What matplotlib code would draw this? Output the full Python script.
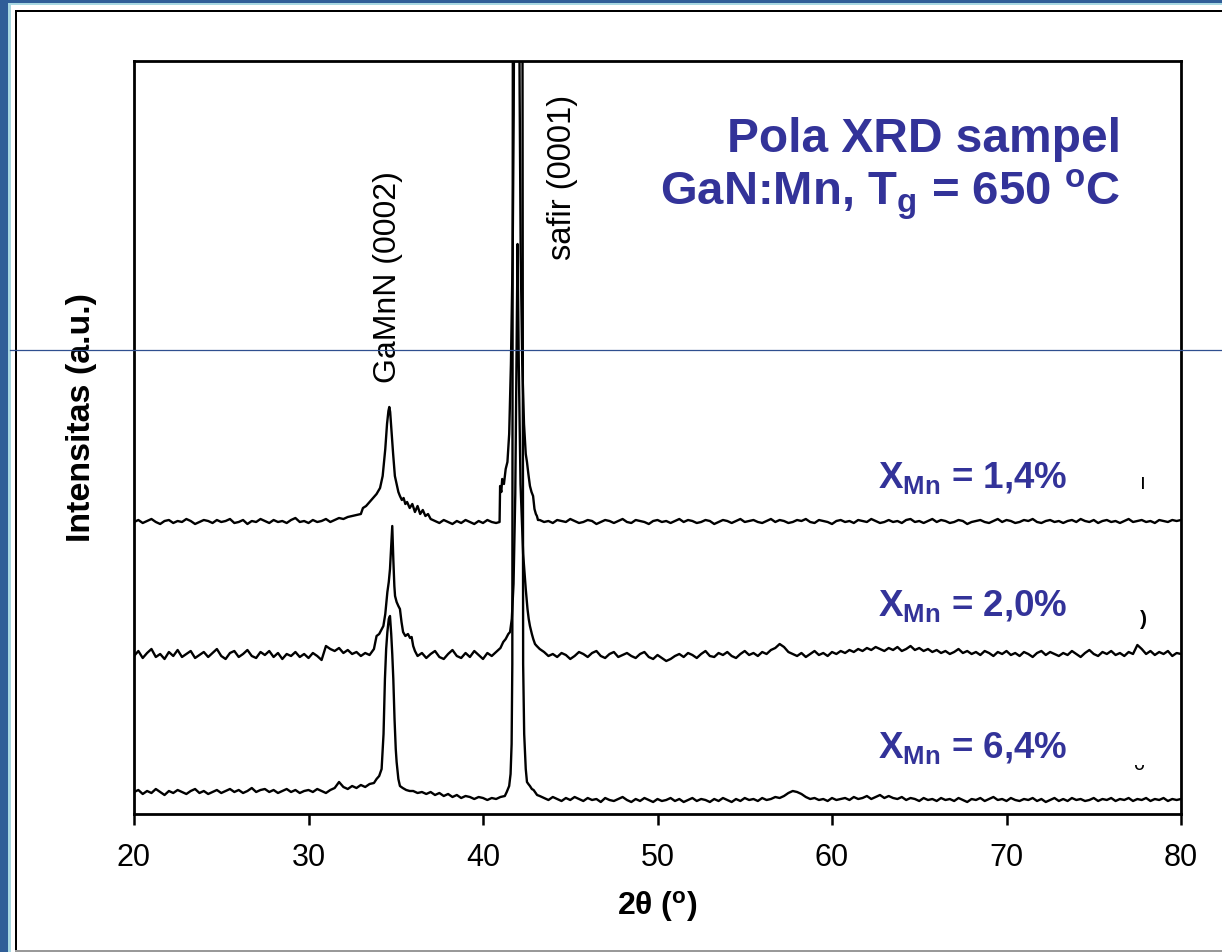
import numpy as np
import matplotlib
matplotlib.use("Agg")
import matplotlib.pyplot as plt
from matplotlib.patches import Rectangle
from matplotlib.lines import Line2D

plt.rcParams['font.family'] = ['Liberation Sans', 'DejaVu Sans']
plt.rcParams['mathtext.fontset'] = 'custom'
plt.rcParams['mathtext.rm'] = 'Liberation Sans'
plt.rcParams['mathtext.it'] = 'Liberation Sans:italic'
plt.rcParams['mathtext.bf'] = 'Liberation Sans:bold'

BLUE = '#333399'

# ---- data (2theta in degrees, intensity in arbitrary units) ----
# each trace = baseline pieces on a 0.25 deg scan grid + hand-read peak points

# X_Mn = 1,4 %
base14_a = [292, 294, 291, 293, 295, 292, 290, 293, 294, 291,
            293, 292, 295, 293, 290, 292, 294, 293, 291, 294,
            292, 293, 295, 291, 292, 294, 290, 293, 292, 295,
            293, 291, 294, 292, 293, 291, 294, 296, 292, 293,
            291, 294, 292, 293, 295, 292, 294, 296, 295, 297,
            298, 299]                                   # 20.0 .. 32.75
peak14_x = [33.0, 33.12, 33.3, 33.5, 33.7, 33.9, 34.1, 34.25, 34.4, 34.5, 34.58,
            34.63, 34.68, 34.75, 34.85, 34.95, 35.05, 35.15, 35.24, 35.35, 35.45,
            35.55, 35.65, 35.8, 35.95, 36.1, 36.25, 36.4, 36.55, 36.7, 36.85, 37.0]
peak14_y = [300, 306, 308, 312, 316, 320, 326, 338, 365, 390, 403,
            407, 402, 385, 360, 338, 330, 322, 318, 314, 316,
            310, 312, 306, 310, 302, 308, 300, 304, 298, 300, 295]
base14_b = [293, 291, 294, 292, 290, 293, 291, 294, 292, 290,
            293, 291, 294, 292, 291]                    # 37.25 .. 40.75
saph14_x = [40.95, 40.98, 41.05, 41.1, 41.2, 41.3, 41.4, 41.5, 41.6, 41.7, 41.76,
            41.82, 41.93, 42.03, 42.1, 42.16, 42.25, 42.35, 42.45, 42.52, 42.6,
            42.69, 42.78, 42.87, 42.95, 43.03, 43.09, 43.15]
saph14_y = [292, 328, 322, 335, 330, 345, 352, 380, 450, 560, 700,
            1000, 1600, 1000, 720, 560, 450, 390, 360, 352, 340,
            328, 322, 318, 305, 300, 298, 294]
base14_c = [294, 292, 293, 291, 294, 293, 292, 295, 293, 291,
            292, 294, 293, 290, 292, 294, 293, 291, 293, 295,
            292, 291, 294, 293, 292, 290, 293, 294, 292, 293,
            291, 293, 295, 292, 294, 293, 291, 292, 294, 293,
            290, 292, 294, 293, 291, 293, 295, 292, 293, 294,
            292, 291, 293, 295, 292, 294, 293, 291, 292, 294,
            293, 295, 292, 291, 294, 293, 292, 290, 293, 294,
            292, 293, 291, 294, 293, 292, 295, 293, 291, 292,
            294, 292, 293, 291, 294, 295, 292, 293, 291, 293,
            295, 292, 294, 293, 291, 292, 294, 293, 290, 292,
            293, 294, 292, 291, 293, 295, 292, 294, 293, 291,
            292, 294, 293, 295, 292, 291, 293, 294, 292, 293,
            291, 293, 294, 292, 295, 293, 292, 294, 291, 293,
            294, 292, 293, 291, 293, 295, 292, 293, 294, 292,
            293, 291, 294, 293, 292, 294, 293, 294]     # 43.25 .. 80.0

# X_Mn = 2,0 %
base20_a = [158, 163, 156, 161, 165, 157, 160, 155, 162, 158,
            164, 157, 160, 163, 156, 159, 162, 157, 161, 165,
            158, 155, 161, 163, 157, 160, 164, 158, 156, 162,
            159, 163, 157, 161, 155, 160, 158, 162, 157, 160,
            156, 161, 158, 154, 168, 165, 163, 166, 161, 164,
            160, 162, 158, 161, 159]                    # 20.0 .. 33.5
peak20_x = [33.75, 33.9, 34.05, 34.2, 34.29, 34.4, 34.52, 34.6, 34.67, 34.74, 34.8,
            34.86, 34.92, 34.96, 35.05, 35.15, 35.24, 35.33, 35.42, 35.55, 35.7,
            35.82, 35.91, 36.0, 36.1]
peak20_y = [165, 178, 180, 185, 188, 200, 222, 232, 245, 268, 288,
            255, 228, 218, 212, 208, 205, 192, 182, 178, 180,
            176, 177, 168, 163]
base20_b = [158, 161, 156, 160, 163, 157, 155, 160, 164, 158,
            156, 161, 157, 163, 159, 155, 161, 158, 162, 166]   # 36.25 .. 41.0
saph20_x = [41.16, 41.3, 41.45, 41.55, 41.65, 41.75, 41.85, 41.92, 41.98, 42.05,
            42.15, 42.3, 42.45, 42.55, 42.62, 42.69, 42.8, 42.88, 42.98, 43.08]
saph20_y = [172, 175, 180, 182, 195, 230, 320, 450, 570, 450,
            330, 260, 225, 205, 195, 188, 180, 175, 170, 168]
base20_c = [165, 162, 158, 160, 157, 161, 159, 155, 158, 162,
            160, 157, 161, 163, 158, 156, 160, 162, 157, 159,
            161, 158, 156, 160, 162, 157, 155, 159, 156, 153,
            155, 158, 160, 157, 161, 159, 156, 160, 163, 158,
            157, 161, 159, 162, 158, 156, 160, 163, 159, 161,
            158, 162, 160, 164, 166, 170, 167, 162, 160, 158,
            161, 157, 160, 163, 159, 161, 158, 162, 160, 163,
            161, 164, 162, 165, 163, 166, 164, 167, 165, 163,
            166, 164, 167, 163, 165, 168, 164, 166, 163, 165,
            162, 164, 161, 163, 160, 162, 165, 161, 163, 160,
            162, 159, 163, 161, 158, 162, 160, 163, 159, 161,
            158, 162, 160, 157, 161, 163, 159, 162, 160, 158,
            161, 159, 163, 160, 157, 161, 164, 160, 158, 162,
            160, 163, 159, 161, 158, 162, 160, 169, 165, 160,
            163, 159, 162, 160, 163, 158, 161, 160]     # 43.25 .. 80.0

# X_Mn = 6,4 %
base64_a = [22, 24, 20, 23, 21, 25, 22, 19, 23, 21,
            24, 22, 20, 23, 25, 21, 23, 20, 22, 24,
            21, 23, 25, 22, 24, 21, 23, 26, 22, 24,
            25, 22, 24, 21, 23, 25, 22, 24, 21, 23,
            24, 22, 25, 23, 21, 24, 26, 32, 27, 25,
            28, 26, 29, 27, 30, 31]                     # 20.0 .. 33.75
peak64_x = [33.9, 34.05, 34.19, 34.3, 34.38, 34.45, 34.52, 34.6, 34.67, 34.74,
            34.8, 34.86, 34.93, 35.0, 35.05, 35.15, 35.24, 35.4, 35.6, 35.8]
peak64_y = [35, 38, 45, 80, 135, 165, 182, 195, 198, 180,
            160, 135, 95, 65, 52, 35, 28, 26, 24, 23]
base64_b = [23, 21, 22, 20, 22, 19, 21, 18, 20, 17,
            19, 16, 18, 17, 15, 17, 16, 14, 16, 15, 17, 18]     # 36.0 .. 41.25
saph64_x = [41.36, 41.5, 41.58, 41.64, 41.68, 41.72, 41.98, 42.25, 42.3, 42.36,
            42.45, 42.52, 42.6, 42.69, 42.8, 42.9, 42.98, 43.1]
saph64_y = [22, 28, 40, 70, 150, 1000, 3000, 1000, 150, 80,
            45, 32, 30, 28, 25, 24, 22, 19]
base64_c = [18, 16, 14, 17, 15, 13, 16, 14, 17, 15,
            13, 16, 14, 15, 12, 16, 14, 13, 15, 17,
            14, 12, 15, 13, 16, 14, 12, 15, 13, 14,
            16, 13, 15, 12, 14, 16, 13, 15, 14, 12,
            15, 13, 16, 14, 12, 15, 13, 16, 14, 15,
            13, 16, 14, 15, 17, 16, 18, 21, 23, 22,
            20, 17, 15, 16, 14, 15, 13, 16, 14, 15,
            16, 14, 17, 15, 16, 18, 15, 17, 19, 16,
            18, 16, 15, 17, 14, 16, 15, 13, 16, 14,
            15, 13, 16, 14, 15, 13, 16, 14, 12, 15,
            14, 16, 13, 15, 17, 14, 15, 13, 16, 14,
            13, 15, 14, 16, 13, 15, 12, 14, 16, 13,
            15, 13, 16, 14, 15, 13, 14, 16, 13, 15,
            14, 16, 13, 15, 14, 16, 13, 15, 14, 16,
            13, 15, 14, 16, 13, 15, 14, 15]             # 43.25 .. 80.0

labels = ['X$_{\\mathbf{Mn}}$ = 1,4%', 'X$_{\\mathbf{Mn}}$ = 2,0%', 'X$_{\\mathbf{Mn}}$ = 6,4%']
label_y = [327, 199, 57]
xticks = [20, 30, 40, 50, 60, 70, 80]


def scan(start, vals):
    # values recorded on a 0.25 deg step scan starting at `start`
    return start + 0.25 * np.arange(len(vals)), np.array(vals, float)


def trace(pieces):
    xs, ys = [], []
    for p in pieces:
        xs.append(np.asarray(p[0], float))
        ys.append(np.asarray(p[1], float))
    return np.concatenate(xs), np.concatenate(ys)


t14 = trace([scan(20.0, base14_a), (peak14_x, peak14_y), scan(37.25, base14_b),
             (saph14_x, saph14_y), scan(43.25, base14_c)])
t20 = trace([scan(20.0, base20_a), (peak20_x, peak20_y), scan(36.25, base20_b),
             (saph20_x, saph20_y), scan(43.25, base20_c)])
t64 = trace([scan(20.0, base64_a), (peak64_x, peak64_y), scan(36.0, base64_b),
             (saph64_x, saph64_y), scan(43.25, base64_c)])

# ---- figure ----
fig = plt.figure(figsize=(12.22, 9.53), dpi=100)
W, H = 1222.0, 953.0


def frect(x0, y0, x1, y1, **kw):
    # rectangle given in pixel coords (top-left origin)
    fig.patches.append(Rectangle((x0 / W, 1 - y1 / H), (x1 - x0) / W, (y1 - y0) / H,
                                 transform=fig.transFigure, figure=fig, **kw))


# slide border
frect(0, 0, 8, H, color='#305E98', lw=0)
frect(0, 0, W, 4, color='#305E98', lw=0)
frect(8, 4, 11, H, color='#A8D8E2', lw=0)
frect(8, 4, W, 6, color='#A8D8E2', lw=0)
frect(14.5, 10.5, 17, H, color='black', lw=0)
frect(14.5, 10.5, W, 13, color='black', lw=0)
frect(14.5, 951, W, H, color='#999999', lw=0)

ax = fig.add_axes([134 / W, 1 - 815 / H, (1181 - 134) / W, (815 - 62) / H])
for xx, yy in (t14, t20, t64):
    ax.plot(xx, yy, color='black', lw=1.7)

ax.set_xlim(20, 80)
ax.set_ylim(0, 753)
ax.set_xticks(xticks)
ax.set_yticks([])
ax.tick_params(axis='x', direction='out', length=8, width=1.8, labelsize=22, pad=12)
for s in ax.spines.values():
    s.set_linewidth(2.0)

ax.set_xlabel('2θ ($^{\\mathbf{o}}$)', fontsize=23, fontweight='bold', labelpad=12)
ax.set_ylabel('Intensitas (a.u.)', fontsize=24.5, fontweight='bold')
ax.yaxis.set_label_coords(-0.035, 0.528)

ax.text(34.56, 432, 'GaMnN (0002)', rotation=90, ha='center', va='bottom', fontsize=23)
ax.text(44.58, 555, 'safir (0001)', rotation=90, ha='center', va='bottom', fontsize=23.5)

ax.text(76.56, 663, 'Pola XRD sampel', ha='right', va='baseline',
        fontsize=34.5, fontweight='bold', color=BLUE)
ax.text(76.56, 610, 'GaN:Mn, T$_{\\mathbf{g}}$ = 650 $^{\\mathbf{o}}$C', ha='right', va='baseline',
        fontsize=34, fontweight='bold', color=BLUE)

for lab, yy in zip(labels, label_y):
    ax.text(73.52, yy, lab, ha='right', va='baseline', fontsize=26.5,
            fontweight='bold', color=BLUE)

# clipped panel letters at the right edge
ax.text(77.8, 326, 'ı', fontsize=15, ha='center', va='baseline', family='DejaVu Sans')
ax.text(77.85, 190, ')', fontsize=15, ha='center', va='baseline', fontweight='bold')
ax.text(77.6, 45, 'ᴗ', fontsize=13, ha='center', va='baseline', family='DejaVu Sans')

# thin guide line across the slide
fig.add_artist(Line2D([10 / W, 1], [1 - 351 / H, 1 - 351 / H], transform=fig.transFigure,
                      color='#2F4F8F', lw=0.9, zorder=10))

fig.savefig('out.png', dpi=100)
